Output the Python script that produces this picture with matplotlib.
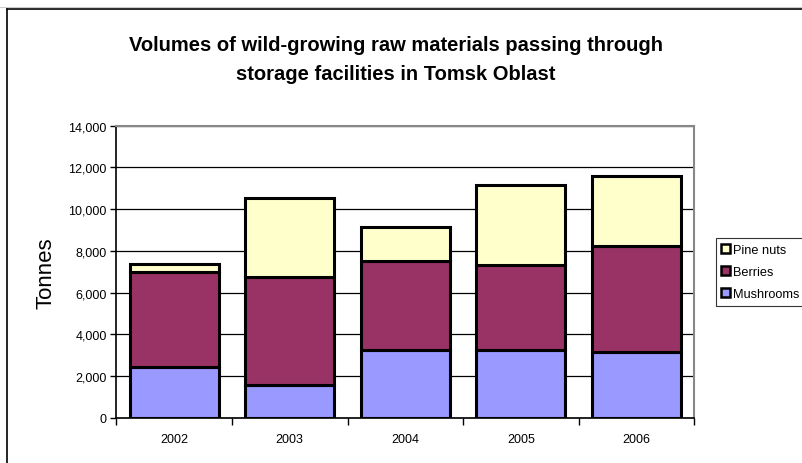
import numpy as np
import matplotlib.pyplot as plt
from matplotlib.lines import Line2D
from matplotlib.patches import Patch

plt.rcParams['font.family'] = ['Liberation Sans', 'DejaVu Sans']

# tonnes per year, stacked bottom to top
years = ['2002', '2003', '2004', '2005', '2006']
mushrooms = [2430, 1560, 3270, 3260, 3180]
berries = [4570, 5180, 4260, 4080, 5040]
pine_nuts = [400, 3800, 1620, 3820, 3370]

series = [('Mushrooms', mushrooms, '#9999FF'),
          ('Berries', berries, '#993366'),
          ('Pine nuts', pine_nuts, '#FFFFCC')]

fig = plt.figure(figsize=(8.03, 4.64), dpi=100)
ax = fig.add_axes([0.1449, 0.0970, 0.8646 - 0.1449, 0.7269 - 0.0970])

x = np.arange(len(years))
bottom = np.zeros(len(years))
for name, vals, col in series:
    ax.bar(x, vals, 0.77, bottom=bottom, color=col, edgecolor='black',
           linewidth=2.2, label=name, zorder=3)
    bottom += np.array(vals)

ax.set_xlim(-0.5, len(years) - 0.5)
ax.set_ylim(0, 14000)
ax.set_yticks(np.arange(0, 14001, 2000))
ax.set_yticklabels([f'{v:,}' for v in range(0, 14001, 2000)], fontsize=9)
ax.yaxis.grid(True, color='black', linewidth=0.9, zorder=0)

# category ticks sit on the boundaries, labels in the middle
ax.set_xticks(np.arange(-0.5, len(years)), minor=False)
ax.set_xticklabels([])
ax.set_xticks(x, minor=True)
ax.set_xticklabels(years, minor=True, fontsize=9)
ax.tick_params(axis='x', which='major', length=5, width=1, color='black')
ax.tick_params(axis='x', which='minor', length=0, pad=11)
ax.tick_params(axis='y', length=4, width=1, pad=3)

for side in ['top', 'right']:
    ax.spines[side].set_color('#888888')
    ax.spines[side].set_linewidth(1.5)
ax.spines['left'].set_linewidth(1.2)
ax.spines['bottom'].set_linewidth(1.2)

fig.text(45.8 / 803, 1 - 273 / 464, 'Tonnes', rotation=90, fontsize=16,
         ha='center', va='center')

fig.text(0.493, 1 - 60 / 464,
         'Volumes of wild-growing raw materials passing through\nstorage facilities in Tomsk Oblast',
         ha='center', va='center', fontsize=14.5, fontweight='bold', linespacing=1.7)

handles = [Patch(facecolor=c, edgecolor='black', linewidth=1.8, label=n)
           for n, _, c in reversed(series)]
leg = fig.legend(handles=handles, loc='center left',
                 bbox_to_anchor=(715.7 / 803, 1 - 273 / 464), fontsize=9.2,
                 frameon=True, fancybox=False, edgecolor='black',
                 handlelength=0.65, handleheight=0.65, handletextpad=0.25,
                 borderpad=0.45, labelspacing=0.8, borderaxespad=0)
leg.get_frame().set_linewidth(0.8)

# outer chart border
fig.add_artist(Line2D([7.5 / 803, 7.5 / 803], [0, 1 - 9.5 / 464],
                      transform=fig.transFigure, color='black', linewidth=1.2))
fig.add_artist(Line2D([7.5 / 803, 1], [1 - 9.5 / 464, 1 - 9.5 / 464],
                      transform=fig.transFigure, color='black', linewidth=1.2))
fig.add_artist(Line2D([0, 1], [1 - 7.5 / 464, 1 - 7.5 / 464],
                      transform=fig.transFigure, color='#cccccc', linewidth=0.8))

fig.savefig('out.png', dpi=100)
